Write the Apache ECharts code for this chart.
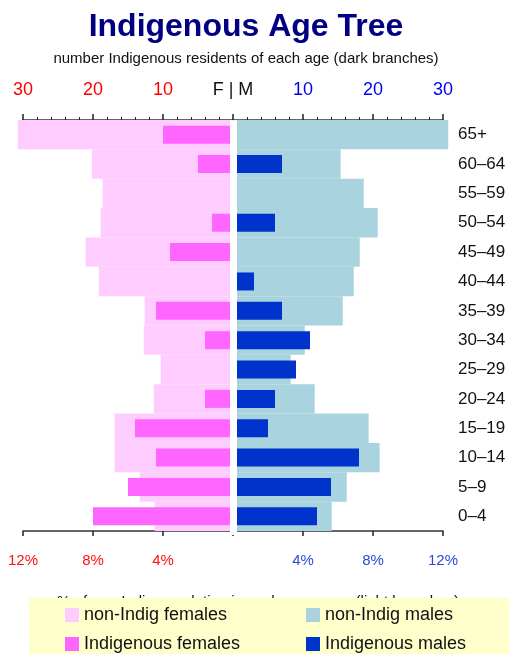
<!DOCTYPE html>
<html>
<head>
<meta charset="utf-8">
<script src="https://cdn.jsdelivr.net/npm/echarts@6/dist/echarts.min.js"></script>
<style>html,body{margin:0;padding:0;background:#fff}#c{width:509px;height:654px}</style>
</head>
<body>
<div id="c"></div>
<script>
// Age groups, top to bottom
const categories = ['65+','60–64','55–59','50–54','45–49','40–44','35–39','30–34','25–29','20–24','15–19','10–14','5–9','0–4'];
// % of non-Indigenous population in each age group (light branches)
const nonIndigFemalesPct = [12.3, 8.07, 7.45, 7.56, 8.42, 7.67, 5.05, 5.1, 4.13, 4.53, 6.76, 6.76, 5.33, 4.47];
const nonIndigMalesPct   = [12.3, 6.15, 7.47, 8.27, 7.24, 6.9, 6.27, 4.1, 3.3, 4.67, 7.75, 8.38, 6.5, 5.64];
// number of Indigenous residents (dark branches)
const indigFemales = [10, 5, 0, 3, 9, 0, 11, 4, 0, 4, 14, 11, 15, 20];
const indigMales   = [0, 7, 0, 6, 0, 3, 7, 11, 9, 6, 5, 18, 14, 12];
// legend entries
const legendNames = ['non-Indig females', 'non-Indig males', 'Indigenous females', 'Indigenous males'];

const SANS = "'Liberation Sans', Arial, sans-serif";

function legendItem(name, left, top) {
  return {data: [name], left: left, top: top, z: 10, orient: 'horizontal',
    itemWidth: 14, itemHeight: 14, icon: 'rect', itemTextGap: 5, padding: 0,
    textStyle: {fontFamily: SANS, fontSize: 18, color: '#111'}};
}

const chart = echarts.init(document.getElementById('c'), null, {renderer: 'canvas'});
const option = {
  backgroundColor: '#ffffff',
  animation: false,
  title: [
    {text: 'Indigenous Age Tree', left: 246, top: 11, textAlign: 'center', z: 6, padding: 0,
     textStyle: {fontFamily: SANS, fontWeight: 'bold', fontSize: 32, color: '#000080'}},
    {text: 'number Indigenous residents of each age (dark branches)', left: 246, top: 51, textAlign: 'center', z: 6, padding: 0,
     textStyle: {fontFamily: SANS, fontWeight: 'normal', fontSize: 15, color: '#111'}},
    {text: '% of non-Indig population in each age group (light branches)', left: 258, top: 594, textAlign: 'center', z: 1, padding: 0,
     textStyle: {fontFamily: SANS, fontWeight: 'normal', fontSize: 15, color: '#111'}}
  ],
  graphic: [
    {type: 'rect', z: 5, shape: {x: 230, y: 120.3, width: 7, height: 414.7}, style: {fill: '#ffffff'}},
    {type: 'rect', z: 8, shape: {x: 29, y: 598, width: 490, height: 70}, style: {fill: '#ffffcc'}}
  ],
  legend: [
    legendItem(legendNames[0], 65, 606),
    legendItem(legendNames[1], 306, 606),
    legendItem(legendNames[2], 65, 635),
    legendItem(legendNames[3], 306, 635)
  ],
  grid: {left: 23, right: 66, top: 120, bottom: 123, containLabel: false},
  xAxis: [
    {type: 'value', position: 'top', min: -30, max: 30, interval: 10,
     axisLine: {show: true, lineStyle: {color: '#333', width: 1.5}},
     axisTick: {show: true, length: 6, lineStyle: {color: '#222', width: 1.5}},
     minorTick: {show: true, splitNumber: 5, length: 3, lineStyle: {color: '#222', width: 1}},
     splitLine: {show: false},
     axisLabel: {margin: 21, fontFamily: SANS, fontSize: 18,
       formatter: v => v < 0 ? '{r|' + (-v) + '}' : (v > 0 ? '{b|' + v + '}' : '{k|F | M}'),
       rich: {r: {color: '#ff0000', fontFamily: SANS, fontSize: 18},
              b: {color: '#0000ee', fontFamily: SANS, fontSize: 18},
              k: {color: '#111', fontFamily: SANS, fontSize: 18}}}},
    {type: 'value', position: 'bottom', min: -12, max: 12, interval: 4,
     axisLine: {show: true, lineStyle: {color: '#333', width: 1.5}},
     axisTick: {show: true, length: 5, lineStyle: {color: '#222', width: 1.5}},
     splitLine: {show: false},
     axisLabel: {margin: 22, fontFamily: SANS, fontSize: 15,
       formatter: v => v < 0 ? '{r|' + (-v) + '%}' : (v > 0 ? '{b|' + v + '%}' : ''),
       rich: {r: {color: '#ff1010', fontFamily: SANS, fontSize: 15},
              b: {color: '#2a4ad8', fontFamily: SANS, fontSize: 15}}}}
  ],
  yAxis: [
    {type: 'category', data: categories, inverse: true, position: 'right',
     axisLine: {show: false}, axisTick: {show: false},
     axisLabel: {margin: 15, align: 'left', fontFamily: SANS, fontSize: 17, color: '#111'}},
    {type: 'category', data: categories, inverse: true, position: 'right', show: false}
  ],
  series: [
    {name: legendNames[0], type: 'bar', xAxisIndex: 1, yAxisIndex: 0, barWidth: '100%', barGap: '-100%', clip: false,
     itemStyle: {color: '#ffccff'}, data: nonIndigFemalesPct.map(v => -v)},
    {name: legendNames[1], type: 'bar', xAxisIndex: 1, yAxisIndex: 0, barWidth: '100%', barGap: '-100%', clip: false,
     itemStyle: {color: '#a8d3df'}, data: nonIndigMalesPct},
    {name: legendNames[2], type: 'bar', xAxisIndex: 0, yAxisIndex: 1, barWidth: 18, barGap: '-100%', clip: false,
     itemStyle: {color: '#ff66ff'}, data: indigFemales.map(v => -v)},
    {name: legendNames[3], type: 'bar', xAxisIndex: 0, yAxisIndex: 1, barWidth: 18, barGap: '-100%', clip: false,
     itemStyle: {color: '#0033cc'}, data: indigMales}
  ]
};
chart.setOption(option);
</script>
</body>
</html>
